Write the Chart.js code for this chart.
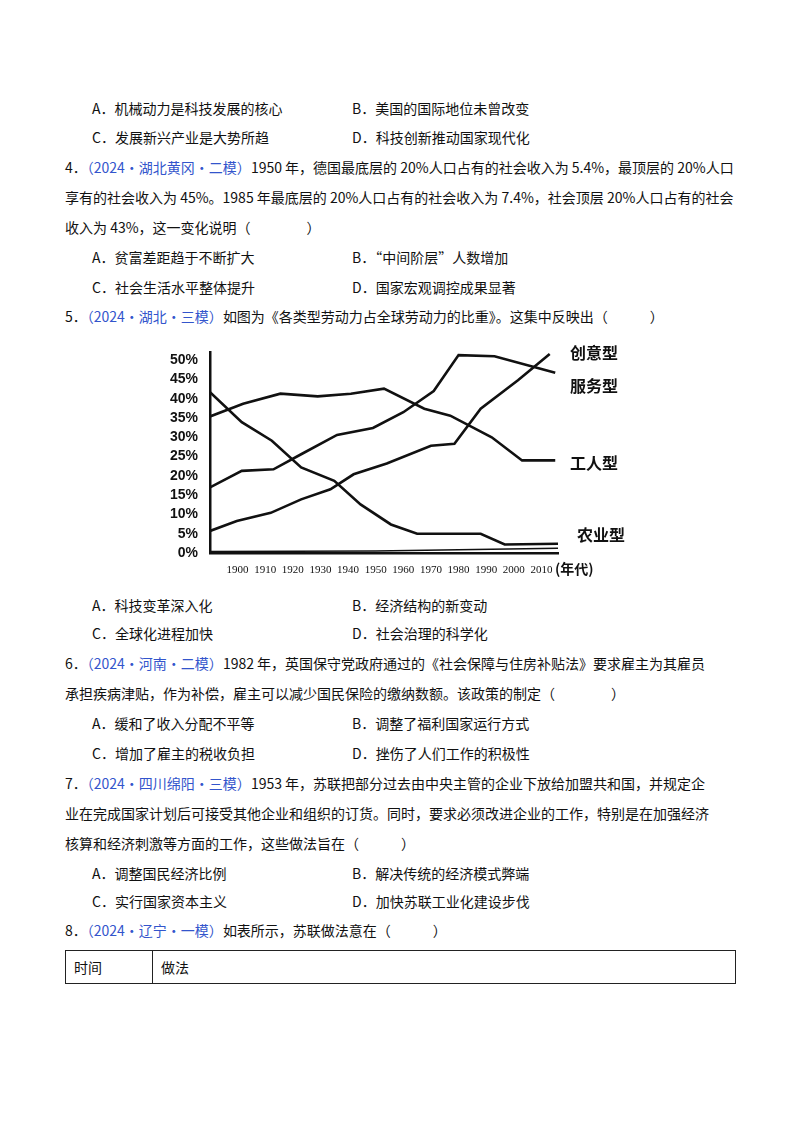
<!DOCTYPE html>
<html><head><meta charset="utf-8">
<script src="https://cdn.jsdelivr.net/npm/chart.js"></script>
<style>
body{margin:0;background:#fff;}
#page{position:relative;width:800px;height:1132px;font-family:"Noto Sans CJK SC",sans-serif;font-size:14px;color:#111;}
.l{position:absolute;white-space:nowrap;line-height:20px;}
.b{color:#3355cc;}
.lab{position:absolute;font-weight:bold;font-size:16px;font-family:"Noto Sans CJK SC";}
table{position:absolute;left:65px;top:950px;width:671px;border-collapse:collapse;}
td{border:1.5px solid #222;height:32px;padding:0 8px;font-size:14px;}
</style></head><body>
<div id="page">
<div class="l" style="left:92px;top:98px">A．机械动力是科技发展的核心</div>
<div class="l" style="left:352px;top:98px">B．美国的国际地位未曾改变</div>
<div class="l" style="left:92px;top:127px">C．发展新兴产业是大势所趋</div>
<div class="l" style="left:352px;top:127px">D．科技创新推动国家现代化</div>
<div class="l" style="left:65px;top:157px">4．<span class="b">（2024•湖北黄冈•二模）</span>1950 年，德国最底层的 20%人口占有的社会收入为 5.4%，最顶层的 20%人口</div>
<div class="l" style="left:65px;top:187px">享有的社会收入为 45%。1985 年最底层的 20%人口占有的社会收入为 7.4%，社会顶层 20%人口占有的社会</div>
<div class="l" style="left:65px;top:217px">收入为 43%，这一变化说明（　　　　）</div>
<div class="l" style="left:92px;top:247px">A．贫富差距趋于不断扩大</div>
<div class="l" style="left:352px;top:247px">B．“中间阶层”人数增加</div>
<div class="l" style="left:92px;top:277px">C．社会生活水平整体提升</div>
<div class="l" style="left:352px;top:277px">D．国家宏观调控成果显著</div>
<div class="l" style="left:65px;top:306px">5．<span class="b">（2024•湖北•三模）</span>如图为《各类型劳动力占全球劳动力的比重》。这集中反映出（　　　）</div>
<div style="position:absolute;left:160px;top:340px;width:480px;height:240px"><canvas id="c"></canvas></div>
<div class="lab" style="left:570px;top:340px">创意型</div>
<div class="lab" style="left:570px;top:373px">服务型</div>
<div class="lab" style="left:570px;top:450px">工人型</div>
<div class="lab" style="left:577px;top:522px">农业型</div>
<div class="lab" style="left:555px;top:558px;font-size:14px">(年代)</div>
<div class="l" style="left:92px;top:595px">A．科技变革深入化</div>
<div class="l" style="left:352px;top:595px">B．经济结构的新变动</div>
<div class="l" style="left:92px;top:623px">C．全球化进程加快</div>
<div class="l" style="left:352px;top:623px">D．社会治理的科学化</div>
<div class="l" style="left:65px;top:653px">6．<span class="b">（2024•河南•二模）</span>1982 年，英国保守党政府通过的《社会保障与住房补贴法》要求雇主为其雇员</div>
<div class="l" style="left:65px;top:683px">承担疾病津贴，作为补偿，雇主可以减少国民保险的缴纳数额。该政策的制定（　　　　）</div>
<div class="l" style="left:92px;top:713px">A．缓和了收入分配不平等</div>
<div class="l" style="left:352px;top:713px">B．调整了福利国家运行方式</div>
<div class="l" style="left:92px;top:743px">C．增加了雇主的税收负担</div>
<div class="l" style="left:352px;top:743px">D．挫伤了人们工作的积极性</div>
<div class="l" style="left:65px;top:773px">7．<span class="b">（2024•四川绵阳•三模）</span>1953 年，苏联把部分过去由中央主管的企业下放给加盟共和国，并规定企</div>
<div class="l" style="left:65px;top:803px">业在完成国家计划后可接受其他企业和组织的订货。同时，要求必须改进企业的工作，特别是在加强经济</div>
<div class="l" style="left:65px;top:833px">核算和经济刺激等方面的工作，这些做法旨在（　　　）</div>
<div class="l" style="left:92px;top:863px">A．调整国民经济比例</div>
<div class="l" style="left:352px;top:863px">B．解决传统的经济模式弊端</div>
<div class="l" style="left:92px;top:891px">C．实行国家资本主义</div>
<div class="l" style="left:352px;top:891px">D．加快苏联工业化建设步伐</div>
<div class="l" style="left:65px;top:920px">8．<span class="b">（2024•辽宁•一模）</span>如表所示，苏联做法意在（　　　）</div>
<table><tr><td style="width:70px">时间</td><td>做法</td></tr></table>
</div>
<script>
const xTicks=[1900,1910,1920,1930,1940,1950,1960,1970,1980,1990,2000,2010];
const serviceX=[1890,1901.5,1913,1923,1936,1949,1960,1971,1980,1993,2015];
const serviceY=[17,21.3,21.7,25.6,30.6,32.4,36.5,42,51.3,51,46.7];
const workerX=[1890,1902,1915.5,1929,1941,1953,1967.6,1977,1992,2003,2015];
const workerY=[35.4,38.7,41.3,40.6,41.3,42.6,37.4,35.6,30,24,24];
const farmX=[1890,1901.5,1912.4,1923,1935,1944.5,1955.5,1965,1988,1996.7,2016];
const farmY=[41.7,33.9,29.1,22.2,18.7,12.6,7.4,5,5,2.2,2.4];
const creativeX=[1890,1899.7,1912,1923,1933.6,1942,1954,1970,1978.5,1988,2001.5,2013];
const creativeY=[5.7,8.3,10.4,13.9,16.5,20.4,23.2,27.8,28.3,37.4,44.8,51.6];
const baseX=[1890,1950,2016];
const baseY=[0.4,0.5,1.2];
const pts=(xs,ys)=>xs.map((x,i)=>({x,y:ys[i]}));
const ds=(xs,ys,w)=>({data:pts(xs,ys),borderColor:'#111',borderWidth:w||2.6,pointRadius:0,tension:0});
new Chart(document.getElementById('c'),{type:'line',
data:{datasets:[ds(serviceX,serviceY),ds(workerX,workerY),ds(farmX,farmY),ds(creativeX,creativeY),ds(baseX,baseY,1.5)]},
options:{responsive:true,maintainAspectRatio:false,animation:false,
layout:{padding:{top:8,right:82,left:0,bottom:0}},
plugins:{legend:{display:false},tooltip:{enabled:false}},
scales:{
x:{type:'linear',min:1890,max:2016,grid:{display:false},border:{color:'#111',width:2.5},
 afterBuildTicks:a=>{a.ticks=xTicks.map(v=>({value:v}));},
 afterFit:a=>{a.height=27;},
 ticks:{color:'#111',font:{family:'Liberation Sans Narrow',size:11},maxRotation:0,autoSkip:false,callback:v=>String(v)}},
y:{min:0,max:52,grid:{display:false},border:{color:'#111',width:2.5},
 afterBuildTicks:a=>{a.ticks=[0,5,10,15,20,25,30,35,40,45,50].map(v=>({value:v}));},
 afterFit:a=>{a.width=50;},
 ticks:{color:'#111',font:{family:'Liberation Sans',size:14,weight:'bold'},callback:v=>v+'%',padding:4}}
}}});
</script>
</body></html>
